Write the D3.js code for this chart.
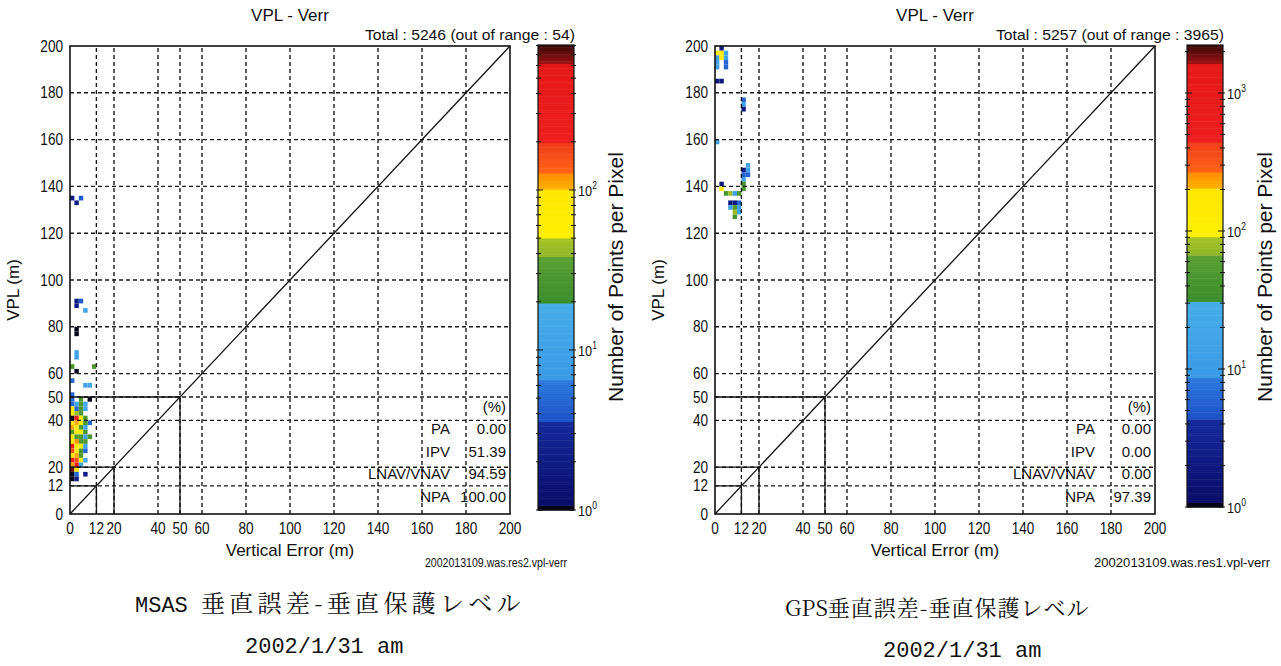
<!DOCTYPE html>
<html>
<head>
<meta charset="utf-8">
<script src="https://cdn.jsdelivr.net/npm/d3@7"></script>
<style>
  body { margin: 0; background: #fff; }
  text { fill: #111; }
</style>
</head>
<body>
<div id="chart"></div>
<script>
// Axis ticks (metres) shared by both panels
const axisTicks = [0, 12, 20, 40, 50, 60, 80, 100, 120, 140, 160, 180, 200];
const gridTicks = [12, 20, 40, 50, 60, 80, 100, 120, 140, 160, 180];
const alertLimits = [12, 20, 50];

// Table rows
const statLabels = ["PA", "IPV", "LNAV/VNAV", "NPA"];
const msasStats = ["0.00", "51.39", "94.59", "100.00"];
const gpsStats = ["0.00", "0.00", "0.00", "97.39"];

// 2D histogram cells: [vertical error (m), VPL (m), points per pixel]
const msasCells = [
  [0, 134, 2], [2, 132, 2], [4, 134, 4],
  [2, 90, 2], [4, 90, 4], [2, 88, 2], [6, 86, 10],
  [2, 78, 1], [2, 76, 1], [2, 68, 10], [2, 66, 9],
  [0, 62, 28], [2, 60, 1], [10, 62, 30],
  [0, 56, 5], [6, 54, 12], [8, 54, 12], [0, 50, 5],
  [0, 48, 5], [4, 48, 28], [8, 48, 1],
  [0, 46, 5], [2, 46, 12], [4, 46, 30], [6, 46, 12],
  [0, 44, 70], [2, 44, 5], [4, 44, 28], [6, 44, 12],
  [0, 42, 60], [2, 42, 45], [4, 42, 30],
  [0, 40, 1], [2, 40, 300], [4, 40, 70], [6, 40, 28], [8, 38, 5],
  [0, 38, 70], [2, 38, 110], [4, 38, 70], [6, 38, 28],
  [0, 36, 110], [2, 36, 70], [4, 36, 30], [6, 36, 12],
  [0, 34, 30], [2, 34, 70], [4, 34, 60], [6, 34, 28],
  [0, 32, 70], [2, 32, 28], [4, 32, 30], [6, 32, 12], [8, 32, 28],
  [0, 30, 70], [2, 30, 120], [4, 30, 28], [6, 30, 30],
  [0, 28, 300], [2, 28, 70], [4, 28, 60], [6, 28, 12],
  [0, 26, 160], [2, 26, 70], [4, 26, 28], [6, 26, 5],
  [0, 24, 70], [2, 24, 110], [4, 24, 30],
  [0, 22, 300], [2, 22, 160], [4, 22, 70], [6, 22, 12],
  [0, 20, 110], [2, 20, 300], [4, 20, 12],
  [0, 18, 700], [2, 18, 70], [6, 16, 2],
  [0, 16, 1], [2, 16, 5], [0, 14, 1], [2, 14, 2]
];
const gpsCells = [
  [2, 198, 2], [0, 196, 130], [2, 196, 130], [4, 196, 15],
  [0, 194, 15], [2, 194, 130], [4, 194, 15],
  [0, 192, 15], [4, 192, 6], [4, 190, 6], [0, 190, 15],
  [0, 184, 2], [2, 184, 2],
  [12, 176, 6], [12, 174, 15], [12, 172, 2],
  [0, 158, 15],
  [14, 148, 15], [14, 146, 15], [12, 146, 2], [14, 144, 6], [12, 144, 6], [12, 142, 15],
  [2, 140, 2], [12, 140, 45], [2, 138, 130], [12, 138, 45],
  [4, 136, 45], [6, 136, 78], [8, 136, 15], [10, 136, 45],
  [6, 132, 2], [8, 132, 2], [10, 132, 6],
  [6, 130, 15], [8, 130, 45], [10, 130, 15],
  [8, 128, 78], [10, 128, 15], [8, 126, 45]
];

// Colour table of the "points per pixel" bar, by fraction of the bar height
const colorBands = [
  { f0: 0.000, f1: 0.012, c0: "#05051a", c1: "#05051a" },
  { f0: 0.012, f1: 0.190, c0: "#0a0c6a", c1: "#142a9c" },
  { f0: 0.190, f1: 0.280, c0: "#1d50c6", c1: "#2b7ade" },
  { f0: 0.280, f1: 0.445, c0: "#3a9ae6", c1: "#46ade9" },
  { f0: 0.445, f1: 0.545, c0: "#3a8c2c", c1: "#5aa032" },
  { f0: 0.545, f1: 0.585, c0: "#8eb62a", c1: "#a8c224" },
  { f0: 0.585, f1: 0.690, c0: "#fff000", c1: "#ffe600" },
  { f0: 0.690, f1: 0.725, c0: "#ffb400", c1: "#ff8a00" },
  { f0: 0.725, f1: 0.790, c0: "#ff6414", c1: "#f03c1c" },
  { f0: 0.790, f1: 0.960, c0: "#ee1e1e", c1: "#e61818" },
  { f0: 0.960, f1: 1.000, c0: "#a01212", c1: "#3a0808" }
];

function bandColor(f) {
  f = Math.max(0, Math.min(1, f));
  const b = colorBands.find(d => f <= d.f1) || colorBands[colorBands.length - 1];
  return d3.interpolateRgb(b.c0, b.c1)((f - b.f0) / (b.f1 - b.f0));
}

const width = 1281, height = 666;
const svg = d3.select("#chart").append("svg")
  .attr("width", width)
  .attr("height", height)
  .style("font-family", "'Liberation Sans', Arial, sans-serif");

svg.append("rect").attr("width", width).attr("height", height).attr("fill", "#fff");

// tick numbers are drawn in a squeezed sans
const squeeze = 0.85;

function drawPanel(p) {
  const x = d3.scaleLinear().domain([0, 200]).range([p.left, p.right]);
  const y = d3.scaleLinear().domain([0, 200]).range([p.bottom, p.top]);
  const g = svg.append("g");

  // cells
  const logMax = Math.log10(p.cMax);
  g.selectAll("rect.cell")
    .data(p.cells)
    .enter()
    .append("rect")
    .attr("class", "cell")
    .attr("x", d => x(d[0]))
    .attr("y", d => y(d[1] + 2))
    .attr("width", x(2) - x(0))
    .attr("height", y(0) - y(2))
    .attr("fill", d => bandColor(Math.log10(d[2]) / logMax));

  // dashed grid
  g.selectAll("line.vgrid")
    .data(gridTicks)
    .enter()
    .append("line")
    .attr("x1", d => x(d)).attr("x2", d => x(d))
    .attr("y1", y(0)).attr("y2", y(200))
    .attr("stroke", "#1a1a1a").attr("stroke-width", 1.4)
    .attr("stroke-dasharray", "4,3");
  g.selectAll("line.hgrid")
    .data(gridTicks)
    .enter()
    .append("line")
    .attr("y1", d => y(d)).attr("y2", d => y(d))
    .attr("x1", x(0)).attr("x2", x(200))
    .attr("stroke", "#1a1a1a").attr("stroke-width", 1.4)
    .attr("stroke-dasharray", "4,3");

  // alert limit boxes
  alertLimits.forEach(a => {
    g.append("path")
      .attr("d", `M${x(0)},${y(a)}H${x(a)}V${y(0)}`)
      .attr("fill", "none").attr("stroke", "#111").attr("stroke-width", 1.3);
  });

  // diagonal
  g.append("line")
    .attr("x1", x(0)).attr("y1", y(0))
    .attr("x2", x(200)).attr("y2", y(200))
    .attr("stroke", "#111").attr("stroke-width", 1.3);

  // frame
  g.append("rect")
    .attr("x", x(0)).attr("y", y(200))
    .attr("width", x(200) - x(0)).attr("height", y(0) - y(200))
    .attr("fill", "none").attr("stroke", "#111").attr("stroke-width", 1.6);

  // tick labels
  g.selectAll("text.xt")
    .data(axisTicks)
    .enter()
    .append("text")
    .attr("transform", d => `translate(${x(d)},${p.bottom + 20}) scale(${squeeze},1)`)
    .attr("text-anchor", "middle")
    .style("font-size", "16px")
    .text(d => d);
  g.selectAll("text.yt")
    .data(axisTicks)
    .enter()
    .append("text")
    .attr("transform", d => `translate(${p.left - 7},${y(d) + 5.5}) scale(${squeeze},1)`)
    .attr("text-anchor", "end")
    .style("font-size", "16px")
    .text(d => d);

  // axis titles
  g.append("text")
    .attr("x", (p.left + p.right) / 2)
    .attr("y", p.bottom + 42)
    .attr("text-anchor", "middle")
    .style("font-size", "17px")
    .text("Vertical Error (m)");
  g.append("text")
    .attr("transform", `translate(${p.left - 51},${(p.top + p.bottom) / 2 + 10}) rotate(-90)`)
    .attr("text-anchor", "middle")
    .style("font-size", "17px")
    .text("VPL (m)");

  // title and totals
  g.append("text")
    .attr("x", (p.left + p.right) / 2)
    .attr("y", 21)
    .attr("text-anchor", "middle")
    .style("font-size", "17px")
    .text("VPL - Verr");
  g.append("text")
    .attr("x", p.cbRight + 1)
    .attr("y", 40)
    .attr("text-anchor", "end")
    .style("font-size", "14px")
    .attr("textLength", p.totalWidth)
    .attr("lengthAdjust", "spacingAndGlyphs")
    .text(p.total);

  // table
  const rowBase = [102, 80, 57, 35, 12];
  g.append("text")
    .attr("x", p.right - 4).attr("y", p.bottom - rowBase[0])
    .attr("text-anchor", "end").style("font-size", "15px").text("(%)");
  statLabels.forEach((lab, i) => {
    g.append("text")
      .attr("x", p.right - 60).attr("y", p.bottom - rowBase[i + 1])
      .attr("text-anchor", "end").style("font-size", "15px").text(lab);
    g.append("text")
      .attr("x", p.right - 4).attr("y", p.bottom - rowBase[i + 1])
      .attr("text-anchor", "end").style("font-size", "15px").text(p.stats[i]);
  });

  // colour bar
  const c = d3.scaleLog().domain([1, p.cMax]).range([p.cbBottom, p.cbTop]);
  const n = 200, cbH = p.cbBottom - p.cbTop;
  g.selectAll("rect.cb")
    .data(d3.range(n))
    .enter()
    .append("rect")
    .attr("x", p.cbLeft)
    .attr("y", i => p.cbBottom - (i + 1) * cbH / n)
    .attr("width", p.cbRight - p.cbLeft)
    .attr("height", cbH / n + 0.5)
    .attr("fill", i => bandColor((i + 0.5) / n));
  g.append("rect")
    .attr("x", p.cbLeft).attr("y", p.cbTop)
    .attr("width", p.cbRight - p.cbLeft).attr("height", cbH)
    .attr("fill", "none").attr("stroke", "#111").attr("stroke-width", 1.2);

  const minor = [];
  for (let e = 0; Math.pow(10, e) <= p.cMax; e++) {
    for (let k = 1; k < 10; k++) {
      if (k * Math.pow(10, e) <= p.cMax) minor.push({ v: k * Math.pow(10, e), major: k === 1, e: e });
    }
  }
  g.selectAll("line.cbt")
    .data(minor)
    .enter()
    .append("path")
    .attr("d", d => {
      const len = d.major ? 5 : 3;
      return `M${p.cbLeft - 2},${c(d.v)}h${len + 2}M${p.cbRight + 2},${c(d.v)}h${-len - 2}`;
    })
    .attr("stroke", "#111").attr("stroke-width", 1);
  const lab = g.selectAll("text.cbl")
    .data(minor.filter(d => d.major))
    .enter()
    .append("text")
    .attr("transform", d => `translate(${p.cbRight + 4},${c(d.v) + 6}) scale(${squeeze},1)`)
    .style("font-size", "15px");
  lab.append("tspan").text("10");
  lab.append("tspan").attr("dy", -7).style("font-size", "10px").text(d => d.e);

  g.append("text")
    .attr("transform", `translate(${p.cbRight + 49},${p.cbTop + 232}) rotate(-90)`)
    .attr("text-anchor", "middle")
    .style("font-size", "21px")
    .text("Number of Points per Pixel");

  // file name
  g.append("text")
    .attr("x", p.fileRight)
    .attr("y", p.bottom + 53)
    .attr("text-anchor", "end")
    .style("font-size", "12px")
    .attr("textLength", p.fileWidth)
    .attr("lengthAdjust", "spacingAndGlyphs")
    .text(p.file);

  // captions
  const cap = g.append("text")
    .attr("x", p.capX).attr("y", p.capY)
    .style("font-family", "'Noto Serif CJK JP', 'Noto Sans CJK JP', serif");
  cap.append("tspan")
    .style("font-family", p.latinFont)
    .style("font-size", "22px")
    .text(p.capLatin);
  cap.append("tspan")
    .style("font-size", p.capSize + "px")
    .style("letter-spacing", p.capSpacing + "px")
    .text(p.capText);
  g.append("text")
    .attr("x", p.dateX).attr("y", p.capY + 41)
    .style("font-family", "'Liberation Mono', monospace")
    .style("font-size", "22px")
    .text("2002/1/31 am");
}

drawPanel({
  left: 70, right: 510, top: 46, bottom: 514,
  cbLeft: 538, cbRight: 574, cbTop: 45, cbBottom: 510,
  cMax: 805, cells: msasCells, stats: msasStats,
  total: "Total : 5246  (out of range : 54)", totalWidth: 210,
  file: "2002013109.was.res2.vpl-verr", fileRight: 567, fileWidth: 142,
  capLatin: "MSAS ", latinFont: "'Liberation Mono', monospace",
  capText: "垂直誤差-垂直保護レベル", capSize: 24, capSpacing: 4.3,
  capX: 135, capY: 612, dateX: 245
});

drawPanel({
  left: 715, right: 1155, top: 46, bottom: 514,
  cbLeft: 1187, cbRight: 1223, cbTop: 45, cbBottom: 507,
  cMax: 2228, cells: gpsCells, stats: gpsStats,
  total: "Total : 5257  (out of range : 3965)", totalWidth: 228,
  file: "2002013109.was.res1.vpl-verr", fileRight: 1270, fileWidth: 176,
  capLatin: "GPS", latinFont: "'Noto Serif CJK JP', 'Liberation Serif', serif",
  capText: "垂直誤差-垂直保護レベル", capSize: 22, capSpacing: 1,
  capX: 785, capY: 616, dateX: 883
});
</script>
</body>
</html>
